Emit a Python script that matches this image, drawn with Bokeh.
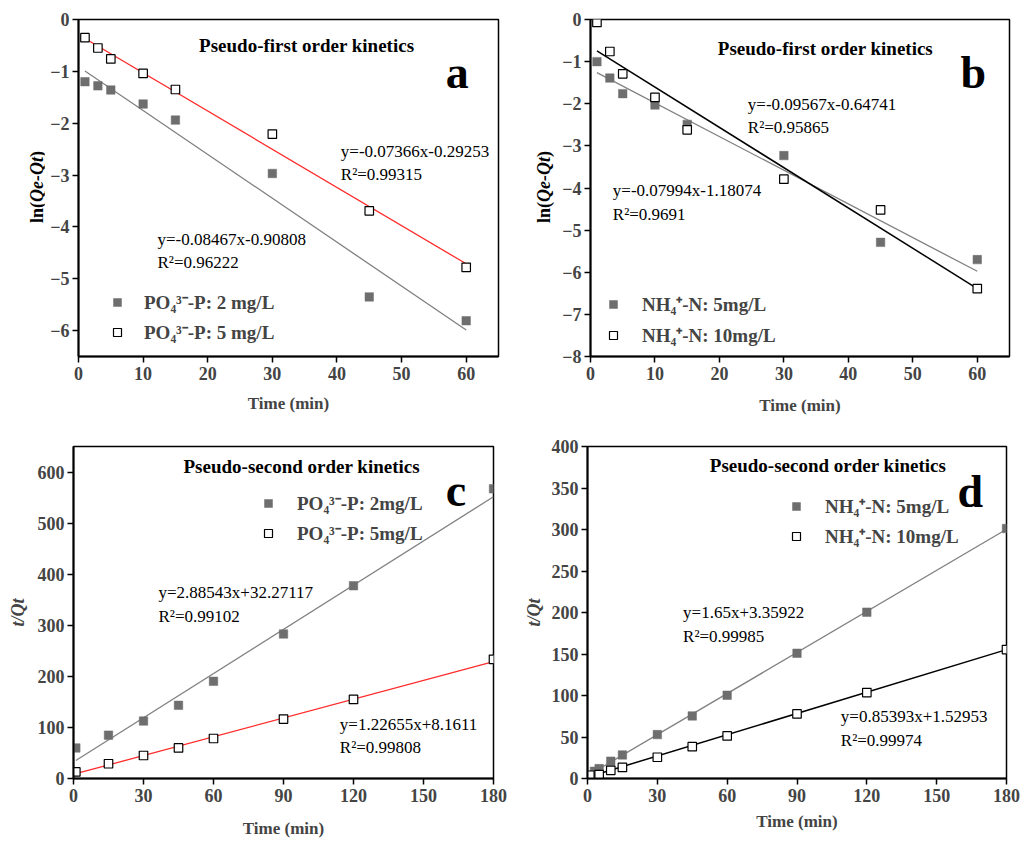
import numpy as np
from bokeh.plotting import figure
from bokeh.models import Range1d, FixedTicker, Label, Legend, LegendItem, Div
from bokeh.layouts import column, row
from bokeh.embed import file_html
from bokeh.resources import INLINE

# ---------------- data ----------------
# (a) pseudo-first order, phosphate
t_first = [1, 3, 5, 10, 15, 30, 45, 60]
a_po4_2mg = [-1.20, -1.28, -1.36, -1.63, -1.94, -2.97, -5.35, -5.81]
a_po4_5mg = [-0.35, -0.55, -0.76, -1.04, -1.35, -2.21, -3.69, -4.78]
a_fit_2mg = (-0.08467, -0.90808, "0.96222")
a_fit_5mg = (-0.07366, -0.29253, "0.99315")

# (b) pseudo-first order, ammonium
b_nh4_5mg = [-1.00, -1.39, -1.76, -2.03, -2.49, -3.23, -5.29, -5.70]
b_nh4_10mg = [-0.07, -0.76, -1.29, -1.85, -2.62, -3.79, -4.52, -6.39]
b_fit_5mg = (-0.07994, -1.18074, "0.9691")
b_fit_10mg = (-0.09567, -0.64741, "0.95865")

# (c) pseudo-second order, phosphate
t_second = [1, 15, 30, 45, 60, 90, 120, 180]
c_po4_2mg = [59.8, 84.9, 112.5, 143.3, 190.3, 282.9, 377.4, 567.2]
c_po4_5mg = [12.8, 28.9, 45.0, 59.8, 78.3, 116.3, 154.9, 233.4]
c_fit_2mg = (2.88543, 32.27117, "0.99102")
c_fit_5mg = (1.22655, 8.1611, "0.99808")

# (d) pseudo-second order, ammonium
t_d_5mg = [3, 5, 10, 15, 30, 45, 60, 90, 120, 180]
d_nh4_5mg = [8.7, 11.9, 20.9, 28.4, 52.9, 75.4, 100.3, 150.9, 200.4, 301.2]
t_d_10mg = [1, 5, 10, 15, 30, 45, 60, 90, 120, 180]
d_nh4_10mg = [3.9, 4.7, 9.8, 13.4, 25.6, 38.3, 51.3, 77.8, 103.5, 155.3]
d_fit_5mg = (1.65, 3.35922, "0.99985")
d_fit_10mg = (0.85393, 1.52953, "0.99974")

first_x_ticks = [0, 10, 20, 30, 40, 50, 60]
second_x_ticks = [0, 30, 60, 90, 120, 150, 180]

SERIF = "Liberation Serif"
FILL_GRAY = "#6e6e6e"
LINE_GRAY = "#808080"
RED = "#ff2b2b"


def fmt_eq(k, b):
    s = f"y={k!r}x"
    s += f"+{b!r}" if b >= 0 else f"-{abs(b)!r}"
    return s


def make_panel(width, height, borders, xr, yr, xticks, yticks):
    left, right, top, bottom = borders
    p = figure(width=width, height=height, output_backend="svg", toolbar_location=None,
               x_range=Range1d(*xr), y_range=Range1d(*yr),
               min_border_left=left, min_border_right=right,
               min_border_top=top, min_border_bottom=bottom)
    p.xgrid.visible = False
    p.ygrid.visible = False
    p.outline_line_color = "black"
    p.outline_line_width = 1.5
    for ax, ticks in ((p.xaxis[0], xticks), (p.yaxis[0], yticks)):
        ax.ticker = FixedTicker(ticks=ticks)
        ax.minor_tick_line_color = None
        ax.major_tick_in = 0
        ax.major_tick_out = 6
        ax.major_tick_line_width = 1.5
        ax.axis_line_width = 2
        ax.major_label_text_font = SERIF
        ax.major_label_text_font_style = "bold"
        ax.major_label_text_font_size = "18px"
        ax.major_label_standoff = 4
        ax.axis_label_text_font = SERIF
        ax.axis_label_text_font_style = "bold"
        ax.axis_label_text_font_size = "17px"
    p.yaxis[0].major_label_standoff = 3
    p.xaxis[0].axis_label = "Time (min)"
    return p


def note(p, text, x, y, size="17px", style="normal", baseline="middle"):
    p.add_layout(Label(x=x, y=y, x_units="screen", y_units="screen", text=text,
                       text_font=SERIF, text_font_size=size, text_font_style=style,
                       text_align="left", text_baseline=baseline, text_color="black"))


def fit_line(p, fit, x0, x1, color, width):
    k, b, _ = fit
    xs = [x0, x1]
    p.line(xs, [k * v + b for v in xs], line_color=color, line_width=width)


def filled(p, x, y):
    return p.scatter(x, y, marker="square", size=8.5, fill_color=FILL_GRAY,
                     line_color=FILL_GRAY, line_width=0.5)


def hollow(p, x, y):
    return p.scatter(x, y, marker="square", size=8.5, fill_color="white",
                     line_color="black", line_width=1.2)


def add_legend(p, entries, loc, standoff, spacing):
    leg = Legend(items=[LegendItem(label=lab, renderers=[r]) for lab, r in entries],
                 location=loc, orientation="vertical",
                 label_text_font=SERIF, label_text_font_style="bold",
                 label_text_font_size="19px", glyph_width=20, glyph_height=22,
                 label_height=22, spacing=spacing, padding=0, margin=0,
                 label_standoff=standoff, border_line_alpha=0,
                 background_fill_alpha=0)
    p.add_layout(leg)


def ln_axis_title(width, height, center_x, center_y):
    # vertical ln(Qe-Qt) title with the quantity in italics
    shift = center_x - width / 2
    html = (
        f'<div style="width:{width}px;height:{2 * center_y}px;display:flex;'
        f'align-items:center;justify-content:center;">'
        f'<span style="display:inline-block;position:relative;left:{shift}px;'
        f'transform:rotate(-90deg);white-space:nowrap;'
        f"font-family:'{SERIF}';font-weight:bold;font-size:18px;color:black;"
        f'line-height:1;">ln(<i>Qe-Qt</i>)</span></div>'
    )
    return Div(text=html, width=width, height=height, margin=0)


# ---------------- panel a ----------------
pa = make_panel(466, 421, (34, 12, 19, 65), (0, 65), (-6.5, 0), first_x_ticks,
                [-6, -5, -4, -3, -2, -1, 0])
pa.xaxis[0].axis_label_standoff = 11
fit_line(pa, a_fit_5mg, 1, 60, RED, 1.3)
fit_line(pa, a_fit_2mg, 1, 60, LINE_GRAY, 1.3)
ra1 = filled(pa, t_first, a_po4_2mg)
ra2 = hollow(pa, t_first, a_po4_5mg)
note(pa, "Pseudo-first order kinetics", 120.6, 310.7, size="19px", style="bold")
note(pa, "a", 367.3, 283.7, size="46px", style="bold", baseline="alphabetic")
note(pa, fmt_eq(*a_fit_5mg[:2]), 262.3, 205)
note(pa, "R²=" + a_fit_5mg[2], 262.3, 182.4)
note(pa, fmt_eq(*a_fit_2mg[:2]), 79, 117.4)
note(pa, "R²=" + a_fit_2mg[2], 79, 94)
add_legend(pa, [("PO₄³⁻-P: 2 mg/L", ra1), ("PO₄³⁻-P: 5 mg/L", ra2)], (29, 11), 17, 4)
ya = ln_axis_title(44, 421, 36.5, 187)

# ---------------- panel b ----------------
pb = make_panel(465, 421, (34, 12, 19, 65), (0, 65), (-8, 0), first_x_ticks,
                [-8, -7, -6, -5, -4, -3, -2, -1, 0])
pb.xaxis[0].axis_label_standoff = 13
fit_line(pb, b_fit_5mg, 1, 60, LINE_GRAY, 1.3)
fit_line(pb, b_fit_10mg, 1, 60, "black", 1.5)
rb1 = filled(pb, t_first, b_nh4_5mg)
rb2 = hollow(pb, t_first, b_nh4_10mg)
note(pb, "Pseudo-first order kinetics", 127.3, 308.4, size="19px", style="bold")
note(pb, "b", 370, 284, size="46px", style="bold", baseline="alphabetic")
note(pb, fmt_eq(*b_fit_10mg[:2]), 157.3, 251.7)
note(pb, "R²=" + b_fit_10mg[2], 157.3, 229)
note(pb, fmt_eq(*b_fit_5mg[:2]), 22.3, 166.4)
note(pb, "R²=" + b_fit_5mg[2], 22.3, 142.4)
add_legend(pb, [("NH₄⁺-N: 5mg/L", rb1), ("NH₄⁺-N: 10mg/L", rb2)], (13, 8), 19, 5)
yb = ln_axis_title(46, 421, 34, 187)

# ---------------- panel c ----------------
pc = make_panel(510, 421, (73, 17, 25, 59), (0, 180), (0, 650), second_x_ticks,
                [0, 100, 200, 300, 400, 500, 600])
pc.xaxis[0].axis_label_standoff = 14
pc.yaxis[0].axis_label = "t/Qt"
pc.yaxis[0].axis_label_text_font_style = "bold italic"
pc.yaxis[0].axis_label_text_font_size = "18px"
pc.yaxis[0].axis_label_standoff = 7
fit_line(pc, c_fit_2mg, 1, 180, LINE_GRAY, 1.3)
fit_line(pc, c_fit_5mg, 1, 180, RED, 1.3)
rc1 = filled(pc, t_second, c_po4_2mg)
rc2 = hollow(pc, t_second, c_po4_5mg)
note(pc, "Pseudo-second order kinetics", 110, 311.6, size="19px", style="bold")
note(pc, "c", 372.3, 288.3, size="46px", style="bold", baseline="alphabetic")
note(pc, fmt_eq(*c_fit_2mg[:2]), 85, 185.6)
note(pc, "R²=" + c_fit_2mg[2], 85, 162.3)
note(pc, fmt_eq(*c_fit_5mg[:2]), 266.3, 54)
note(pc, "R²=" + c_fit_5mg[2], 266.3, 31)
add_legend(pc, [("PO₄³⁻-P: 2mg/L", rc1), ("PO₄³⁻-P: 5mg/L", rc2)], (185, 232), 19, 4)

# ---------------- panel d ----------------
pd_ = make_panel(511, 421, (77, 15, 20, 64), (0, 180), (0, 400), second_x_ticks,
                 [0, 50, 100, 150, 200, 250, 300, 350, 400])
pd_.xaxis[0].axis_label_standoff = 7
pd_.yaxis[0].axis_label = "t/Qt"
pd_.yaxis[0].axis_label_text_font_style = "bold italic"
pd_.yaxis[0].axis_label_text_font_size = "18px"
pd_.yaxis[0].axis_label_standoff = 5
fit_line(pd_, d_fit_5mg, 1, 180, LINE_GRAY, 1.3)
fit_line(pd_, d_fit_10mg, 1, 180, "black", 1.5)
rd1 = filled(pd_, t_d_5mg, d_nh4_5mg)
rd2 = hollow(pd_, t_d_10mg, d_nh4_10mg)
note(pd_, "Pseudo-second order kinetics", 122.3, 312.6, size="19px", style="bold")
note(pd_, "d", 370, 286.6, size="46px", style="bold", baseline="alphabetic")
note(pd_, fmt_eq(*d_fit_5mg[:2]), 95.6, 165.6)
note(pd_, "R²=" + d_fit_5mg[2], 95.6, 141.6)
note(pd_, fmt_eq(*d_fit_10mg[:2]), 253.3, 62.3)
note(pd_, "R²=" + d_fit_10mg[2], 253.3, 38.3)
add_legend(pd_, [("NH₄⁺-N: 5mg/L", rd1), ("NH₄⁺-N: 10mg/L", rd2)], (199, 229), 19, 4)

layout = column(row(ya, pa, yb, pb), row(pc, pd_))
open("out.html", "w").write(file_html(layout, INLINE))
